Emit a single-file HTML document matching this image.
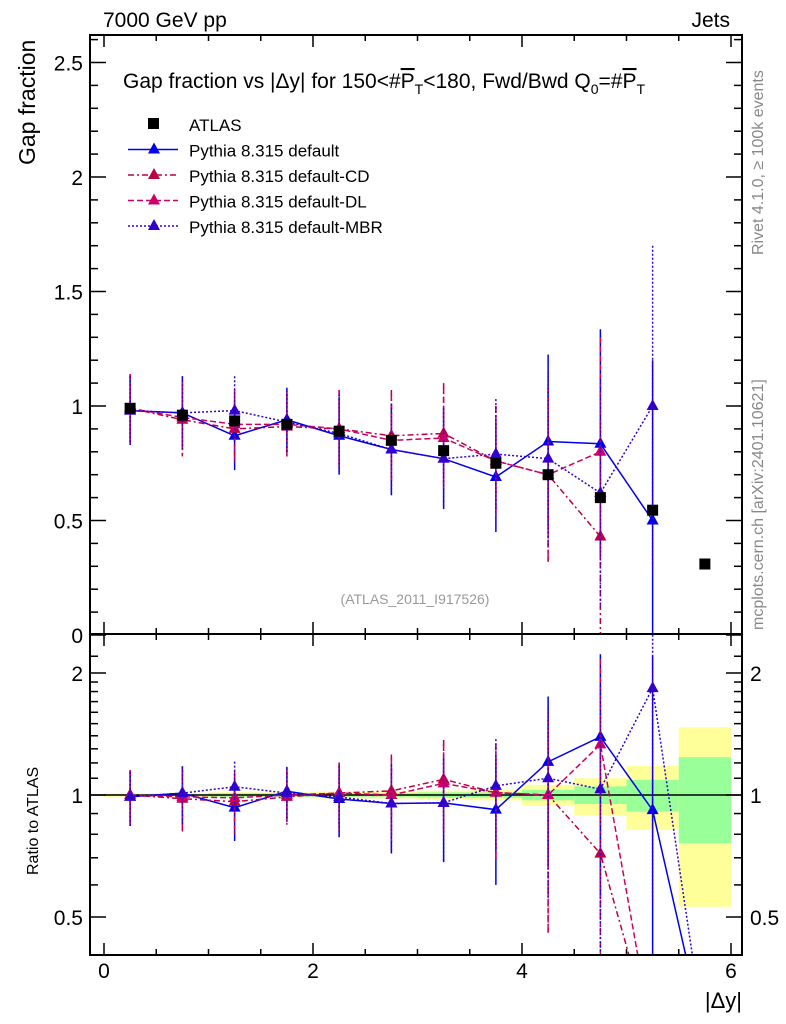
<!DOCTYPE html>
<html><head><meta charset="utf-8"><style>
body{margin:0;background:#fff;overflow:hidden;}
svg{display:block;}
svg text{font-family:"Liberation Sans",sans-serif;}
</style></head><body>
<svg id="c" width="786" height="1024" xmlns="http://www.w3.org/2000/svg"></svg>
<script>
const xCenters=[0.25,0.75,1.25,1.75,2.25,2.75,3.25,3.75,4.25,4.75,5.25,5.75];
const atlasVals=[0.99,0.96,0.935,0.92,0.89,0.85,0.805,0.75,0.70,0.60,0.545,0.31];
const defaultVals=[0.98,0.97,0.87,0.94,0.87,0.81,0.77,0.69,0.845,0.835,0.50,0];
const cdVals=[0.99,0.94,0.90,0.91,0.90,0.87,0.88,0.76,0.70,0.43,0,0];
const dlVals=[0.99,0.95,0.92,0.92,0.90,0.85,0.86,0.76,0.70,0.80,0,0];
const mbrVals=[0.98,0.97,0.98,0.93,0.88,0.81,0.77,0.79,0.77,0.62,1.0,0];
const mcErr=[0.15,0.16,0.15,0.14,0.17,0.20,0.22,0.24,0.38,0.50,0.70,0];
const bandYellowLo=[0.99,0.99,0.985,0.985,0.98,0.98,0.975,0.97,0.94,0.89,0.82,0.53];
const bandYellowHi=[1.01,1.01,1.015,1.015,1.02,1.02,1.025,1.03,1.06,1.10,1.18,1.47];
const bandGreenLo=[0.995,0.995,0.99,0.99,0.99,0.99,0.985,0.985,0.97,0.95,0.91,0.76];
const bandGreenHi=[1.005,1.005,1.01,1.01,1.01,1.01,1.015,1.015,1.03,1.05,1.09,1.24];
const mainTicks=[0,0.5,1,1.5,2,2.5];
const mainTickLabels=["0","0.5","1","1.5","2","2.5"];
const xTicks=[0,2,4,6];
const ratioTicks=[0.5,1,2];

const S=document.getElementById('c');const NS='http://www.w3.org/2000/svg';
function el(t,a,p){const e=document.createElementNS(NS,t);for(const k in a)e.setAttribute(k,a[k]);(p||S).appendChild(e);return e;}
const L=90,R=742,T=35,MB=634,RB=955;
const X=v=>104+v*104.5;
const Y=v=>635-v*229;
const YR=v=>795-Math.log2(Math.max(v,1e-3))*122;
function clipDef(id,y0,y1){const d=el('clipPath',{id:id});el('rect',{x:L,y:y0,width:R-L,height:y1-y0},d);}
clipDef('cm',T,MB);clipDef('cr',MB,RB);

const gb=el('g',{'clip-path':'url(#cr)'});


xCenters.forEach((x,i)=>{
 const r=el('rect',{x:X(x-0.25),y:YR(bandYellowHi[i]),width:X(0.5)-X(0),height:YR(bandYellowLo[i])-YR(bandYellowHi[i]),fill:'#ffff99'},gb);
 
 const g=el('rect',{x:X(x-0.25),y:YR(bandGreenHi[i]),width:X(0.5)-X(0),height:YR(bandGreenLo[i])-YR(bandGreenHi[i]),fill:'#99ff99'},gb);
 
});
el('line',{x1:L,x2:R,y1:YR(1),y2:YR(1),stroke:'#000','stroke-width':1.5});

const series=[
 {name:'default',vals:defaultVals,col:'#0000ee',dash:''},
 {name:'default-cd',vals:cdVals,col:'#bb0044',dash:'6,3,2,3'},
 {name:'default-dl',vals:dlVals,col:'#cc0066',dash:'6,3'},
 {name:'default-mbr',vals:mbrVals,col:'#3300cc',dash:'2,2'}];
function tri(cx,cy,c,p){return el('polygon',{points:`${cx},${cy-7} ${cx-6},${cy+4} ${cx+6},${cy+4}`,fill:c},p);}
series.forEach(s=>{
 [['cm',Y,v=>v,i=>mcErr[i]],['cr',YR,(v,i)=>v/atlasVals[i],i=>mcErr[i]/atlasVals[i]]].forEach(([cp,yf,tf,ef],pi)=>{
  const g=el('g',{'clip-path':`url(#${cp})`});
  
  
  let pts=[];
  xCenters.forEach((x,i)=>{
   if(s.vals[i]<=0){
     if(pi===1&&i>0&&s.vals[i-1]>0)pts.push(X(x)+','+yf(0.25));
     return;
   }
   pts.push(X(x)+','+yf(tf(s.vals[i],i)));
  });
  el('polyline',{points:pts.join(' '),fill:'none',stroke:s.col,'stroke-width':1.5,'stroke-dasharray':s.dash},g);
  xCenters.forEach((x,i)=>{
   if(s.vals[i]<=0)return;
   const v=tf(s.vals[i],i),e=ef(i);
   const eb=el('line',{x1:X(x),x2:X(x),y1:yf(v+e),y2:yf(Math.max(v-e,0.001)),stroke:s.col,'stroke-width':1.5,'stroke-dasharray':s.dash},g);
   
   const m=tri(X(x),yf(v),s.col,g);
   
  });
 });
});
const ga=el('g',{'clip-path':'url(#cm)'});

xCenters.forEach((x,i)=>{
 const r=el('rect',{x:X(x)-5.5,y:Y(atlasVals[i])-5.5,width:11,height:11,fill:'#000'},ga);
 
});

el('rect',{x:L,y:T,width:R-L,height:MB-T,fill:'none',stroke:'#000','stroke-width':2});
el('rect',{x:L,y:MB,width:R-L,height:RB-MB,fill:'none',stroke:'#000','stroke-width':2});
[[T,1],[MB,-1],[MB,1],[RB,-1]].forEach(([y,d])=>{
 for(let v=0;v<=6.01;v+=0.5){const maj=Math.abs(v%2)<0.01;el('line',{x1:X(v),x2:X(v),y1:y,y2:y+d*(maj?12:6),stroke:'#000','stroke-width':1.5});}
});
xTicks.forEach(v=>{const t=el('text',{x:X(v),y:978,'font-size':21,'text-anchor':'middle'});t.textContent=v;
 });
for(let v=0;v<=2.61;v+=0.1){const maj=Math.abs((v*2)%1)<0.01||Math.abs((v*2)%1-1)<0.01;
 [[L,1],[R,-1]].forEach(([x,d])=>el('line',{x1:x,x2:x+d*(maj?16:8),y1:Y(v),y2:Y(v),stroke:'#000','stroke-width':1.5}));}
mainTicks.forEach((v,i)=>{const t=el('text',{x:83,y:Y(v)+8,'font-size':21,'text-anchor':'end'});t.textContent=mainTickLabels[i];
 });
[0.4,0.5,0.6,0.7,0.8,0.9,1,1.1,1.2,1.3,1.4,1.5,1.6,1.7,1.8,1.9,2,2.2].forEach(v=>{const maj=ratioTicks.includes(v);const y=YR(v);
 if(y<MB||y>RB)return;[[L,1],[R,-1]].forEach(([x,d])=>el('line',{x1:x,x2:x+d*(maj?16:8),y1:y,y2:y,stroke:'#000','stroke-width':1.5}));});
ratioTicks.forEach(v=>{[[83,'end'],[750,'start']].forEach(([x,a])=>{const t=el('text',{x:x,y:YR(v)+8,'font-size':21,'text-anchor':a});t.textContent=v;
 });});

function txt(x,y,s,str,name,extra){const t=el('text',Object.assign({x:x,y:y,'font-size':s},extra||{}));t.innerHTML=str;
 return t;}
txt(103,27,21,'7000 GeV pp','header-energy');
txt(730,27,21,'Jets','header-process',{'text-anchor':'end'});
txt(742,1008,22,'|Δy|','x-axis-title',{'text-anchor':'end'});
txt(0,0,23,'Gap fraction','y-axis-title',{transform:'translate(35,165) rotate(-90)'});
txt(0,0,16,'Ratio to ATLAS','ratio-y-axis-title',{transform:'translate(38,875) rotate(-90)'});
txt(0,0,16,'Rivet 4.1.0, ≥ 100k events','rivet-label',{transform:'translate(763,255) rotate(-90)',fill:'#888'});
txt(0,0,16,'mcplots.cern.ch [arXiv:2401.10621]','mcplots-label',{transform:'translate(763,630) rotate(-90)',fill:'#888'});
txt(415,604,14,'(ATLAS_2011_I917526)','analysis-id',{fill:'#999','text-anchor':'middle'});
txt(123,88,21,'Gap fraction vs |Δy| for 150&lt;#<tspan text-decoration="overline">P</tspan><tspan font-size="14" dy="6">T</tspan><tspan dy="-6">&lt;180, Fwd/Bwd Q</tspan><tspan font-size="14" dy="6">0</tspan><tspan dy="-6">=#</tspan><tspan text-decoration="overline">P</tspan><tspan font-size="14" dy="6">T</tspan>','plot-title');
const leg=[['ATLAS',null],['Pythia 8.315 default',series[0]],['Pythia 8.315 default-CD',series[1]],['Pythia 8.315 default-DL',series[2]],['Pythia 8.315 default-MBR',series[3]]];
leg.forEach(([lab,s],i)=>{const y=124+i*25.5;const g=el('g',{});
 
 if(!s)el('rect',{x:148,y:y-6,width:11,height:11,fill:'#000'},g);
 else{el('line',{x1:128,x2:178,y1:y,y2:y,stroke:s.col,'stroke-width':1.5,'stroke-dasharray':s.dash},g);tri(154,y,s.col,g);}
 const t=el('text',{x:189,y:y+7,'font-size':17},g);t.textContent=lab;});
</script>
</body></html>
